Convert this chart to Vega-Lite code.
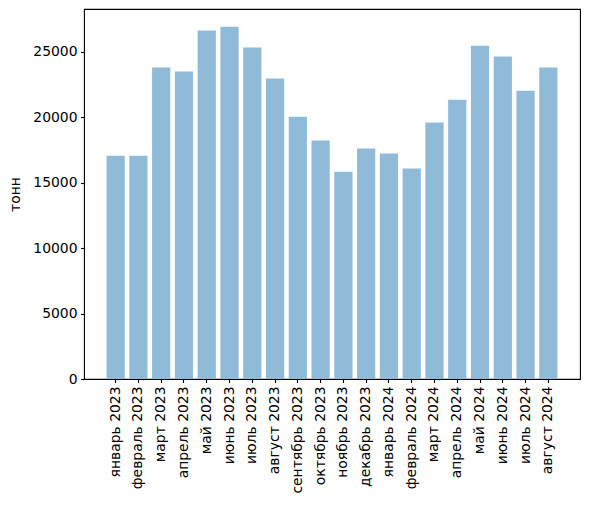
{
  "$schema": "https://vega.github.io/schema/vega-lite/v6.json",
  "width": 496,
  "height": 370,
  "autosize": {"type": "none"},
  "padding": {"left": 84, "top": 9, "right": 9, "bottom": 127},
  "background": "white",
  "data": {
    "values": [
      {"month": "январь 2023", "value": 17070},
      {"month": "февраль 2023", "value": 17070},
      {"month": "март 2023", "value": 23800},
      {"month": "апрель 2023", "value": 23500},
      {"month": "май 2023", "value": 26630},
      {"month": "июнь 2023", "value": 26930},
      {"month": "июль 2023", "value": 25330},
      {"month": "август 2023", "value": 22960},
      {"month": "сентябрь 2023", "value": 20050},
      {"month": "октябрь 2023", "value": 18220},
      {"month": "ноябрь 2023", "value": 15850},
      {"month": "декабрь 2023", "value": 17610},
      {"month": "январь 2024", "value": 17230},
      {"month": "февраль 2024", "value": 16080},
      {"month": "март 2024", "value": 19600},
      {"month": "апрель 2024", "value": 21350},
      {"month": "май 2024", "value": 25480},
      {"month": "июнь 2024", "value": 24640},
      {"month": "июль 2024", "value": 22040},
      {"month": "август 2024", "value": 23800}
    ]
  },
  "mark": {"type": "bar", "color": "#8fbbd9"},
  "encoding": {
    "x": {
      "field": "month",
      "type": "nominal",
      "sort": null,
      "title": null,
      "scale": {"paddingInner": 0.2, "paddingOuter": 0.99},
      "axis": {"labelAngle": -90}
    },
    "y": {
      "field": "value",
      "type": "quantitative",
      "title": "тонн",
      "scale": {"domain": [0, 28280], "nice": false},
      "axis": {"values": [0, 5000, 10000, 15000, 20000, 25000], "format": "d", "titlePadding": 10}
    }
  },
  "config": {
    "view": {"stroke": "black", "strokeWidth": 1.1},
    "axis": {
      "grid": false,
      "domain": false,
      "tickSize": 3.5,
      "tickColor": "black",
      "tickWidth": 1.1,
      "labelPadding": 3.5,
      "labelFont": "DejaVu Sans",
      "labelFontSize": 13.9,
      "labelColor": "black",
      "titleFont": "DejaVu Sans",
      "titleFontSize": 13.9,
      "titleFontWeight": "normal",
      "titleColor": "black",
      "labelFlush": false,
      "labelOverlap": false
    }
  }
}
